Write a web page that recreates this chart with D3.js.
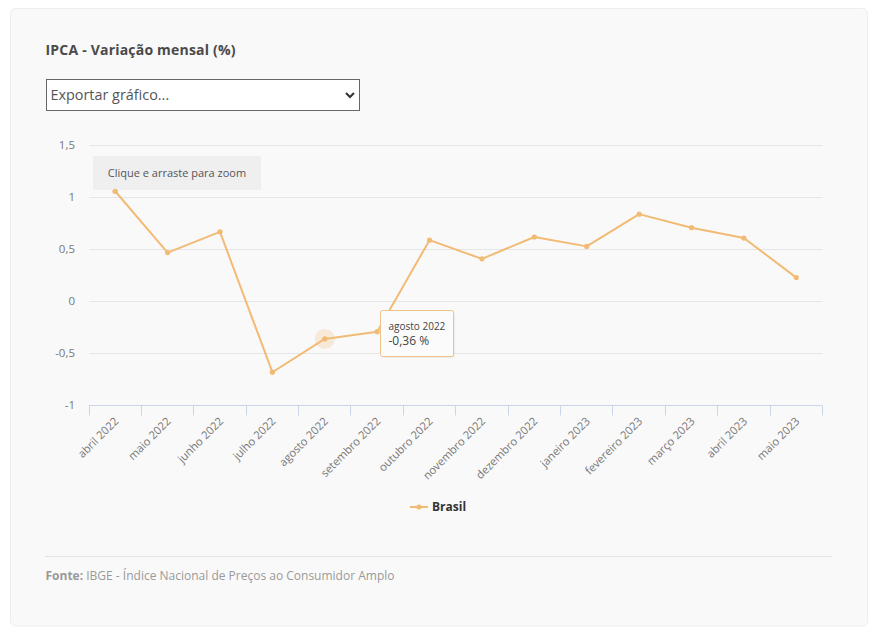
<!DOCTYPE html>
<html lang="pt-BR">
<head>
<meta charset="utf-8">
<script src="https://cdn.jsdelivr.net/npm/d3@7/dist/d3.min.js"></script>
<style>
html,body{margin:0;padding:0;background:#fff;overflow:hidden}
svg{display:block;font-family:"Open Sans",sans-serif}
</style>
</head>
<body>
<svg id="c" width="878" height="633"></svg>
<script>
const categories = ["abril 2022","maio 2022","junho 2022","julho 2022","agosto 2022","setembro 2022","outubro 2022","novembro 2022","dezembro 2022","janeiro 2023","fevereiro 2023","março 2023","abril 2023","maio 2023"];
const brasil = [1.06,0.47,0.67,-0.68,-0.36,-0.29,0.59,0.41,0.62,0.53,0.84,0.71,0.61,0.23];
const yTicks = [-1,-0.5,0,0.5,1,1.5];
const hoverIndex = 4;
const lineColor = "#f2bb75";
const fmt = v => String(v).replace(".", ",");

const svg = d3.select("#c");
svg.append("rect").attr("x",10.5).attr("y",8.5).attr("width",857).attr("height",617.5).attr("rx",5)
  .attr("fill","#f9f9f9").attr("stroke","#eeeeee");

svg.append("text").attr("x",45.5).attr("y",55).attr("font-size",14).attr("font-weight",700).attr("letter-spacing",0.2).attr("fill","#4a4a4a")
  .text("IPCA - Variação mensal (%)");

// export selector
svg.append("rect").attr("x",46.5).attr("y",79.5).attr("width",313).attr("height",31).attr("fill","#fff").attr("stroke","#666");
svg.append("text").attr("x",50.5).attr("y",100).attr("font-size",14.4).attr("fill","#555").text("Exportar gráfico...");
svg.append("path").attr("d","M346 93 L350 97 L354 93").attr("fill","none").attr("stroke","#333").attr("stroke-width",2);

const x = d3.scaleBand().domain(categories).range([89,822.5]);
const y = d3.scaleLinear().domain([-1,1.5]).range([405.5,145.5]);
const cx = d => x(d) + x.bandwidth()/2;

// grid and y labels
svg.append("g").selectAll("line").data(yTicks.filter(t=>t!==-1)).join("line")
  .attr("x1",89).attr("x2",822.5).attr("y1",d=>y(d)).attr("y2",d=>y(d))
  .attr("stroke","#e6e6e6");
svg.append("g").selectAll("text").data(yTicks).join("text")
  .attr("x",75).attr("y",d=>y(d)+3.5).attr("text-anchor","end").attr("font-size",11.5).attr("fill","#777")
  .text(fmt);

// x axis
const xAxis = svg.append("g").attr("transform","translate(0,405.5)");
xAxis.append("line").attr("x1",89).attr("x2",822.5).attr("stroke","#ccd6eb");
const edges = categories.map(c=>x(c)).concat([822.5]);
xAxis.selectAll("line.t").data(edges).join("line").attr("class","t")
  .attr("x1",d=>Math.floor(d)+.5).attr("x2",d=>Math.floor(d)+.5).attr("y1",0).attr("y2",10).attr("stroke","#ccd6eb");
svg.append("g").selectAll("text").data(categories).join("text")
  .attr("text-anchor","end").attr("font-size",11.2).attr("fill","#777")
  .attr("transform",d=>`translate(${cx(d)+4},${422}) rotate(-45)`)
  .text(d=>d);

// series
const pts = categories.map((c,i)=>({c,v:brasil[i]}));
svg.append("path").datum(pts).attr("fill","none").attr("stroke",lineColor).attr("stroke-width",2)
  .attr("stroke-linejoin","round")
  .attr("d",d3.line().x(d=>cx(d.c)).y(d=>y(d.v)));
const hp = pts[hoverIndex];
svg.append("circle").attr("cx",cx(hp.c)).attr("cy",y(hp.v)).attr("r",10).attr("fill",lineColor).attr("opacity",.25);
svg.append("g").selectAll("circle").data(pts).join("circle")
  .attr("cx",d=>cx(d.c)).attr("cy",d=>y(d.v)).attr("r",2.6).attr("fill",lineColor);

// zoom hint
svg.append("rect").attr("x",93).attr("y",156).attr("width",168).attr("height",34).attr("fill","#eeeeee").attr("opacity",.95);
svg.append("text").attr("x",177).attr("y",177).attr("text-anchor","middle").attr("font-size",11).attr("fill","#555")
  .text("Clique e arraste para zoom");
svg.selectAll("circle.top").data([pts[0]]).join("circle").attr("class","top")
  .attr("cx",d=>cx(d.c)).attr("cy",d=>y(d.v)).attr("r",2.6).attr("fill",lineColor);

// tooltip
const tip = svg.append("g").attr("transform","translate(380.5,310.5)");
tip.append("rect").attr("x",1).attr("y",1).attr("width",73).attr("height",46).attr("rx",2).attr("fill","#000").attr("opacity",.1);
tip.append("rect").attr("width",73).attr("height",46).attr("rx",2).attr("fill","#fbfbfb").attr("stroke","#efc48c").attr("stroke-width",1);
tip.append("text").attr("x",8).attr("y",19).attr("font-size",10).attr("fill","#444").text(hp.c);
tip.append("text").attr("x",8).attr("y",34).attr("font-size",12).attr("fill","#444").text(fmt(hp.v)+" %");

// legend
svg.append("line").attr("x1",410).attr("x2",428).attr("y1",507).attr("y2",507).attr("stroke",lineColor).attr("stroke-width",2);
svg.append("circle").attr("cx",419).attr("cy",507).attr("r",2.6).attr("fill",lineColor);
svg.append("text").attr("x",432).attr("y",511).attr("font-size",12).attr("font-weight",700).attr("fill","#333").text("Brasil");

// footer
svg.append("line").attr("x1",45).attr("x2",832).attr("y1",556.5).attr("y2",556.5).attr("stroke","#e3e3e3");
const ft = svg.append("text").attr("x",45.5).attr("y",580).attr("font-size",12).attr("fill","#999");
ft.append("tspan").attr("font-weight",700).text("Fonte:");
ft.append("tspan").text(" IBGE - Índice Nacional de Preços ao Consumidor Amplo");
</script>
</body>
</html>
